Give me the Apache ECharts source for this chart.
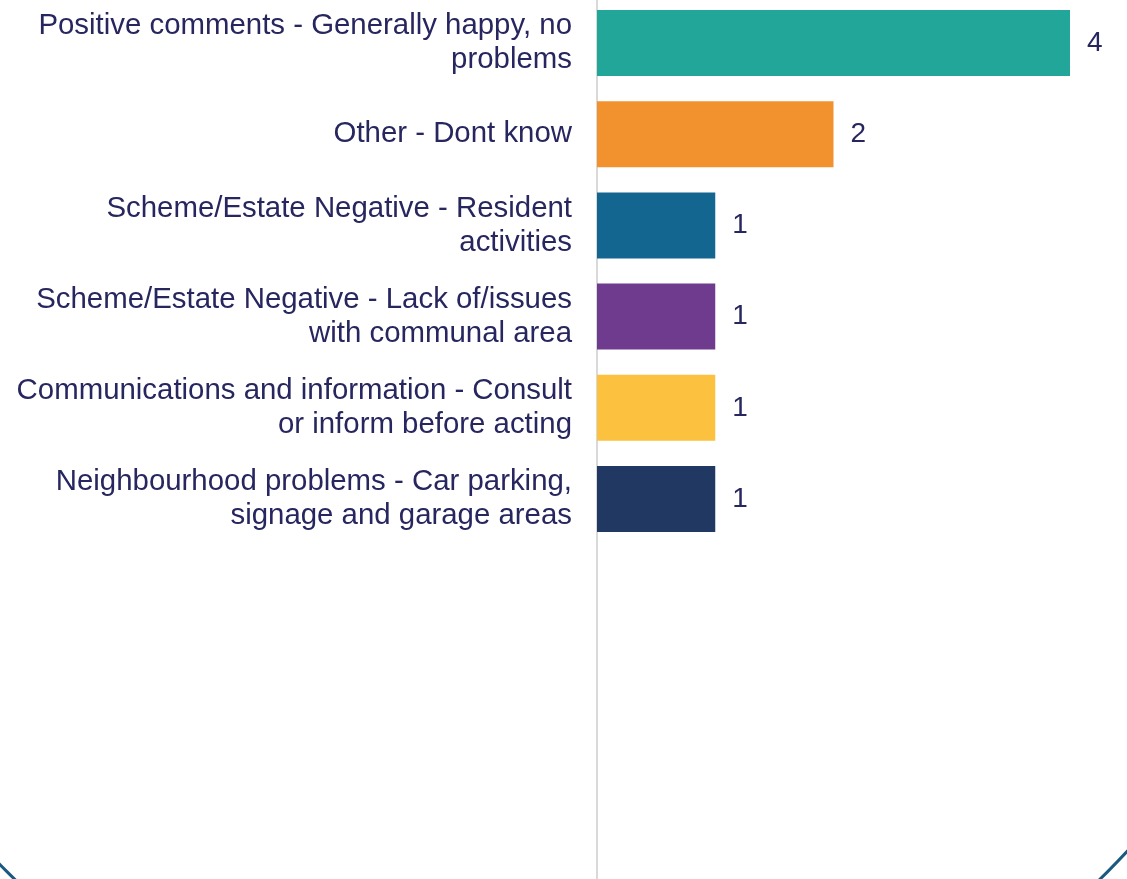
<!DOCTYPE html>
<html>
<head>
<meta charset="utf-8">
<script src="https://cdn.jsdelivr.net/npm/echarts@6/dist/echarts.min.js"></script>
<style>
html,body{margin:0;padding:0;background:#fff;}
#chart{width:1127px;height:879px;}
</style>
</head>
<body>
<div id="chart"></div>
<script>
const categories = [
  "Positive comments - Generally happy, no\nproblems",
  "Other - Dont know",
  "Scheme/Estate Negative - Resident\nactivities",
  "Scheme/Estate Negative - Lack of/issues\nwith communal area",
  "Communications and information - Consult\nor inform before acting",
  "Neighbourhood problems - Car parking,\nsignage and garage areas"
];
const values = [4, 2, 1, 1, 1, 1];
const palette = ["#22a699", "#f2922e", "#13668f", "#6f3b8e", "#fcc13e", "#213862"];

const textColor = "#27265f";
const font = "'Liberation Sans', Arial, sans-serif";

const chart = echarts.init(document.getElementById('chart'));
chart.setOption({
  animation: false,
  backgroundColor: '#ffffff',
  grid: { left: 597, right: 57, top: -2.6, height: 547.2, containLabel: false, outerBoundsMode: 'none' },
  xAxis: {
    type: 'value', min: 0, max: 4,
    show: false
  },
  yAxis: {
    type: 'category', inverse: true, data: categories,
    axisLine: { show: false },
    axisTick: { show: false },
    splitLine: { show: false },
    axisLabel: {
      fontSize: 29.4, lineHeight: 34, color: textColor, fontFamily: font,
      margin: 25, align: 'right'
    }
  },
  series: [{
    type: 'bar',
    barWidth: 66,
    data: values.map((v, i) => ({ value: v, itemStyle: { color: palette[i] } })),
    label: {
      show: true, position: 'right', distance: 17,
      fontSize: 28, color: textColor, fontFamily: font
    }
  }]
});

const x0 = chart.convertToPixel({ xAxisIndex: 0 }, 0);
chart.setOption({
  graphic: [
    { type: 'line', silent: true, z: 0,
      shape: { x1: x0, y1: 0, x2: x0, y2: 879 },
      style: { stroke: '#d9d9d9', lineWidth: 2 } },
    { type: 'circle', silent: true,
      shape: { cx: 557.3, cy: 321.7, r: 778 },
      style: { fill: null, stroke: '#1a5a80', lineWidth: 3 } }
  ]
});
</script>
</body>
</html>
